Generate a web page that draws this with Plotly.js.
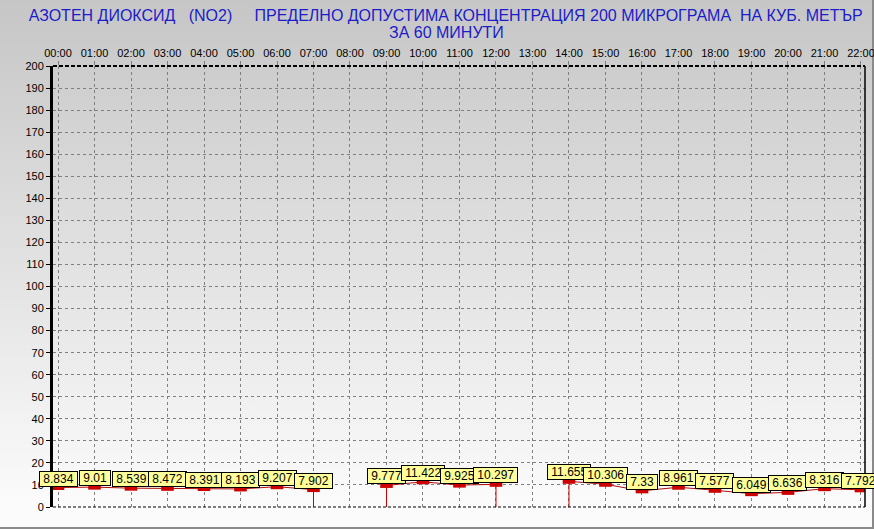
<!DOCTYPE html>
<html>
<head>
<meta charset="utf-8">
<script src="https://cdn.plot.ly/plotly-3.0.1.min.js"></script>
<style>
  body { margin: 0; }
  #chart {
    width: 874px; height: 529px;
    background: linear-gradient(#c6c6c6, #fbfbfb 95%);
    box-shadow: inset -2px -2px 0 #8a8a8a;
  }
</style>
</head>
<body>
<div id="chart"></div>
<script>
const hours = ['00:00', '01:00', '02:00', '03:00', '04:00', '05:00', '06:00', '07:00',
  '08:00', '09:00', '10:00', '11:00', '12:00', '13:00', '14:00', '15:00', '16:00',
  '17:00', '18:00', '19:00', '20:00', '21:00', '22:00'];
const no2 = [8.834, 9.01, 8.539, 8.472, 8.391, 8.193, 9.207, 7.902,
  null, 9.777, 11.422, 9.925, 10.297, null, 11.655, 10.306, 7.33,
  8.961, 7.577, 6.049, 6.636, 8.316, 7.792];
const yTicks = [0, 10, 20, 30, 40, 50, 60, 70, 80, 90, 100, 110, 120, 130, 140, 150, 160, 170, 180, 190, 200];

const titleLine1 = 'АЗОТЕН ДИОКСИД \u00a0 (NO2) \u00a0\u00a0\u00a0 ПРЕДЕЛНО ДОПУСТИМА КОНЦЕНТРАЦИЯ 200 МИКРОГРАМА \u00a0НА КУБ. МЕТЪР';
const titleLine2 = 'ЗА 60 МИНУТИ';

const RED = '#cc0000';
const FONT = 'Liberation Sans, Arial, sans-serif';
const BLUE = '#1c1cc8';

// drop lines at the points next to a gap in the data
const dropX = [], dropY = [];
no2.forEach((v, i) => {
  if (v == null || i === 0 || i === no2.length - 1) return;
  if (no2[i - 1] == null || no2[i + 1] == null) {
    dropX.push(i, i, null);
    dropY.push(0, v, null);
  }
});

const idx = hours.map((h, i) => i);

const traces = [
  {
    x: dropX, y: dropY, type: 'scatter', mode: 'lines',
    line: { color: RED, width: 1 }, hoverinfo: 'skip',
  },
  {
    x: idx, y: no2, type: 'scatter', mode: 'lines+markers',
    line: { color: '#b01010', width: 1 },
    marker: { symbol: 'line-ew', size: 9, line: { color: RED, width: 5 } },
    connectgaps: false,
  },
];

const annotations = no2.map((v, i) => v == null ? null : ({
  x: i, y: v, xref: 'x', yref: 'y',
  text: '\u00a0' + v + '\u00a0',
  showarrow: false,
  xanchor: 'center', yanchor: 'bottom', yshift: 1,
  bgcolor: '#ffff99', bordercolor: '#000000', borderwidth: 1, borderpad: 0,
  font: { family: FONT, size: 12, color: '#000000' },
})).filter(a => a);

// second title line, placed above the plot area
annotations.push({
  xref: 'paper', yref: 'paper', x: 0.484, y: 1.077,
  text: titleLine2, showarrow: false,
  xanchor: 'center', yanchor: 'middle',
  font: { family: FONT, size: 16, color: BLUE },
});

Plotly.newPlot('chart', traces, {
  width: 874, height: 529,
  margin: { l: 53, r: 9, t: 66, b: 22 },
  paper_bgcolor: 'rgba(0,0,0,0)',
  plot_bgcolor: 'rgba(0,0,0,0)',
  showlegend: false,
  font: { family: FONT, size: 11, color: '#000000' },
  title: {
    text: titleLine1,
    x: 0.51, xanchor: 'center',
    yref: 'container', y: 1 - 15 / 529, yanchor: 'middle',
    font: { family: FONT, size: 16, color: BLUE },
  },
  xaxis: {
    side: 'top',
    range: [-0.137, 22.11],
    tickvals: idx, ticktext: hours,
    ticks: 'outside', ticklen: 4, tickcolor: '#808080',
    ticklabeloverflow: 'allow',
    showgrid: true, gridcolor: '#808080', gridwidth: 1, griddash: '3px,3px',
    zeroline: false, showline: false,
    tickfont: { family: FONT, size: 11, color: '#000000' },
  },
  yaxis: {
    range: [0, 200],
    tickvals: yTicks,
    ticks: 'outside', ticklen: 4, tickcolor: '#000000',
    showgrid: true, gridcolor: '#808080', gridwidth: 1, griddash: '3px,3px',
    zeroline: false,
    showline: true, linecolor: '#000000', linewidth: 3,
    tickfont: { family: FONT, size: 11, color: '#000000' },
  },
  shapes: [
    { type: 'line', xref: 'paper', yref: 'paper', x0: 0, x1: 1, y0: 1, y1: 1,
      line: { color: '#000000', width: 2, dash: '4px,2px' } },
    { type: 'line', xref: 'paper', yref: 'paper', x0: 0, x1: 1, y0: 0, y1: 0,
      line: { color: '#000000', width: 1, dash: '3px,2px' } },
    { type: 'line', xref: 'paper', yref: 'paper', x0: 1, x1: 1, y0: 0, y1: 1,
      line: { color: '#000000', width: 1.5 } },
  ],
  annotations: annotations,
}, { displayModeBar: false });
</script>
</body>
</html>
